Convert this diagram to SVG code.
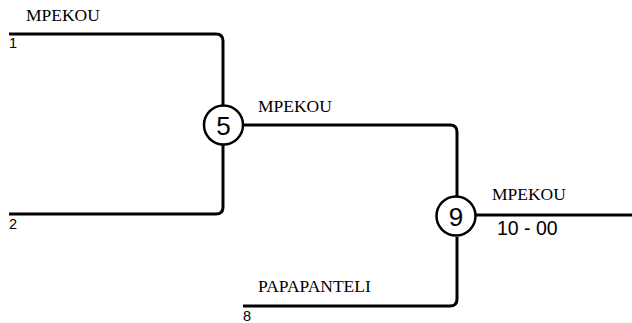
<svg xmlns="http://www.w3.org/2000/svg" width="632" height="323" viewBox="0 0 632 323">
<style>
.c{fill:none;stroke:#000;stroke-width:3}
.n{fill:#fff;stroke:#000;stroke-width:2.5}
.nt{font-family:"Liberation Sans",Arial,sans-serif;font-size:26px;text-anchor:middle;fill:#000}
.lbl{font-family:"Liberation Serif","Times New Roman",serif;font-size:17.5px;fill:#000}
.seed{font-family:"Liberation Sans",Arial,sans-serif;font-size:14.5px;fill:#000}
.score{font-family:"Liberation Sans",Arial,sans-serif;font-size:19.5px;fill:#000}
</style>
<rect width="632" height="323" fill="#fff"/>
<g id="connectors">
<path class="c" d="M9 34 H216 Q223 34 223 41 V105"/>
<path class="c" d="M9 214 H216 Q223 214 223 207 V145"/>
<path class="c" d="M243 125 H450 Q457 125 457 132 V197"/>
<path class="c" d="M243 306 H450 Q457 306 457 299 V237"/>
<path class="c" d="M476 215 H632"/>
</g>
<g id="seed1"><text class="lbl" x="26" y="21">MPEKOU</text><text class="seed" x="9" y="48">1</text></g>
<g id="seed2"><text class="seed" x="9" y="229">2</text></g>
<g id="seed8"><text class="lbl" x="258" y="292">PAPAPANTELI</text><text class="seed" x="243" y="321">8</text></g>
<g id="node5"><circle class="n" cx="223.500" cy="125" r="19.500"/><text class="nt" x="223.500" y="134.500">5</text><text class="lbl" x="258" y="111.500">MPEKOU</text></g>
<g id="node9"><circle class="n" cx="456" cy="216" r="19.500"/><text class="nt" x="456" y="225.500">9</text><text class="lbl" x="492" y="200">MPEKOU</text><text class="score" x="497" y="235">10 - 00</text></g>
</svg>
